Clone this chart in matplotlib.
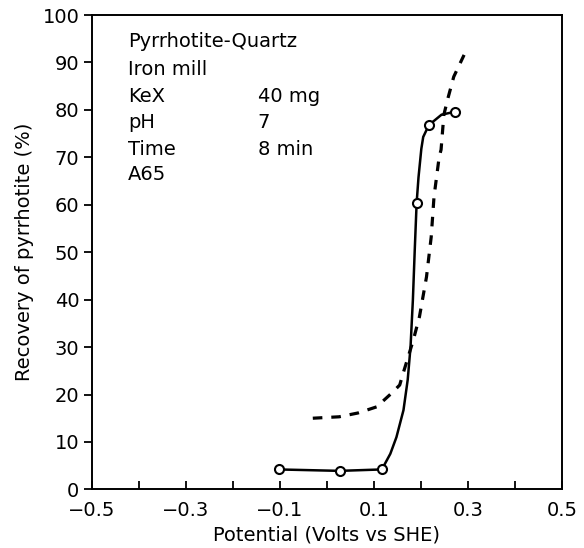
"""Pyrrhotite recovery versus potential."""

import matplotlib

matplotlib.use("Agg")
import matplotlib.pyplot as plt

plt.rcParams["font.family"] = ["DejaVu Sans"]

# measured points (solid curve markers)
pot_points = [-0.103, 0.027, 0.117, 0.191, 0.217, 0.272]
rec_points = [4.2, 3.9, 4.2, 60.4, 76.8, 79.6]

# solid curve traced through the markers
solid_x = [-0.103, 0.027, 0.117, 0.135, 0.148, 0.163, 0.172, 0.178,
           0.183, 0.187, 0.191, 0.195, 0.201, 0.205, 0.217, 0.244, 0.272]
solid_y = [4.2, 3.9, 4.2, 7.5, 11.0, 16.7, 23.1, 30.0,
           39.9, 50.5, 60.4, 65.8, 71.8, 74.3, 76.8, 79.0, 79.6]

# dashed curve
dash_x = [-0.030, 0.026, 0.066, 0.106, 0.138, 0.155, 0.163, 0.184, 0.197,
          0.212, 0.222, 0.228, 0.239, 0.243, 0.249, 0.258, 0.270, 0.292]
dash_y = [15.0, 15.3, 16.1, 17.4, 20.3, 22.0, 24.7, 31.5, 36.4,
          44.8, 53.2, 61.7, 70.1, 71.6, 79.0, 82.6, 87.0, 91.6]

x_ticks = [-0.5, -0.4, -0.3, -0.2, -0.1, 0.0, 0.1, 0.2, 0.3, 0.4, 0.5]
x_labels = ["\u22120.5", "", "\u22120.3", "", "\u22120.1", "", "0.1", "", "0.3", "", "0.5"]
y_ticks = [0, 10, 20, 30, 40, 50, 60, 70, 80, 90, 100]

notes_left = ["Pyrrhotite-Quartz", "Iron mill", "KeX", "pH", "Time", "A65"]
notes_right = ["", "", "40 mg", "7", "8 min", ""]

fig = plt.figure(figsize=(5.84, 5.48), dpi=100)
ax = fig.add_axes([0.1575, 0.107, 0.8045, 0.8655])

ax.plot(solid_x, solid_y, color="black", lw=1.8, solid_capstyle="round")
line, = ax.plot(dash_x, dash_y, color="black", lw=2.3)
line.set_dashes([3.0, 2.8])
ax.plot(pot_points, rec_points, "o", ms=6.5, mfc="white", mec="black", mew=1.5,
        zorder=5)

ax.set_xlim(-0.5, 0.5)
ax.set_ylim(0, 100)
ax.set_xticks(x_ticks)
ax.set_xticklabels(x_labels)
ax.set_yticks(y_ticks)
ax.tick_params(axis="x", direction="in", length=6, width=1.3, labelsize=14,
               pad=8.5)
ax.tick_params(axis="y", direction="out", length=6, width=1.3, labelsize=14,
               pad=3)
for spine in ax.spines.values():
    spine.set_linewidth(1.4)

ax.set_xlabel("Potential (Volts vs SHE)", fontsize=14, labelpad=4)
ax.set_ylabel("Recovery of pyrrhotite (%)", fontsize=14, labelpad=6)

baselines = [0.933, 0.8735, 0.817, 0.762, 0.705, 0.652]
for text_l, text_r, yb in zip(notes_left, notes_right, baselines):
    ax.text(0.077, yb, text_l, transform=ax.transAxes, fontsize=14,
            va="baseline", ha="left")
    if text_r:
        ax.text(0.353, yb, text_r, transform=ax.transAxes, fontsize=14,
                va="baseline", ha="left")

fig.savefig("out.png", dpi=100)
